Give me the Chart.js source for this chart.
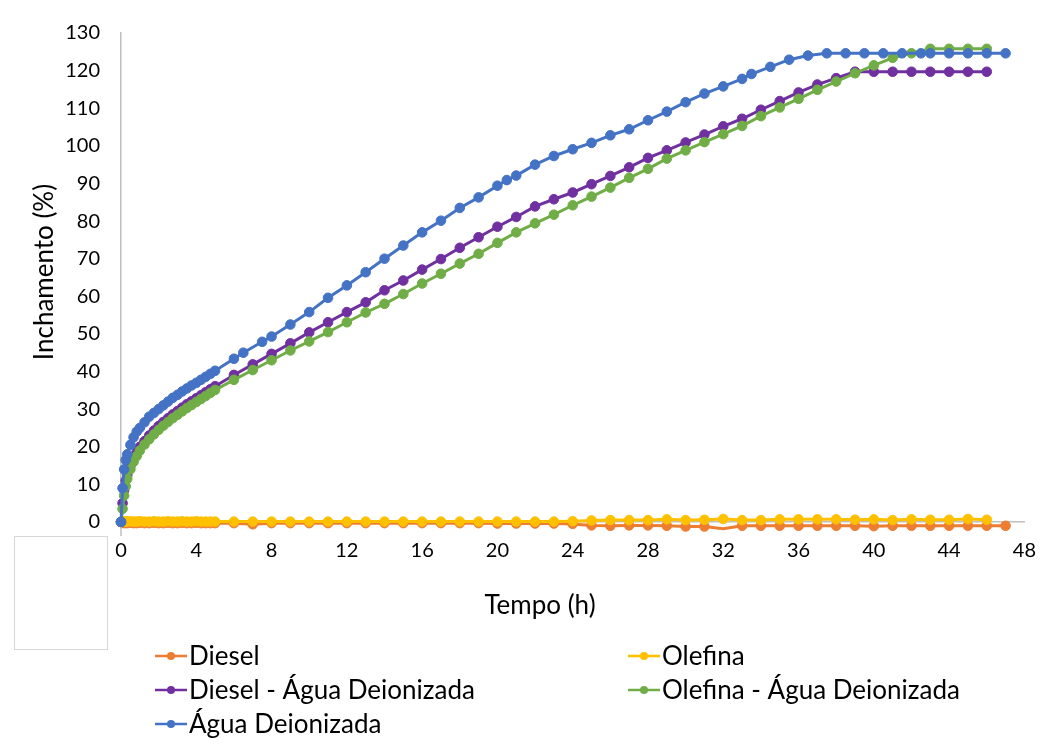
<!DOCTYPE html>
<html>
<head>
<meta charset="utf-8">
<script src="https://cdn.jsdelivr.net/npm/chart.js@4/dist/chart.umd.min.js"></script>
<style>
  html, body { margin: 0; padding: 0; background: #fff; }
  #wrap { position: relative; width: 1053px; height: 751px; }
</style>
</head>
<body>
<div id="wrap"><canvas id="c" width="1053" height="751"></canvas></div>
<script>
// ---- Data ----
const seriesNames = ['Diesel', 'Olefina', 'Diesel - Água Deionizada', 'Olefina - Água Deionizada', 'Água Deionizada'];
const xTitle = 'Tempo (h)';
const yTitle = 'Inchamento (%)';

const timeDiesel = [0,0.083,0.167,0.25,0.333,0.5,0.667,0.833,1,1.25,1.5,1.75,2,2.25,2.5,2.75,3,3.25,3.5,3.75,4,4.25,4.5,4.75,5,
  6,7,8,9,10,11,12,13,14,15,16,17,18,19,20,21,22,23,24,25,26,27,28,29,30,31,32,33,34,35,36,37,38,39,40,41,42,43,44,45,46,47];
const valDiesel = [0,-0.2,-0.3,-0.2,-0.3,-0.2,-0.3,-0.3,-0.2,-0.3,-0.3,-0.2,-0.3,-0.3,-0.2,-0.3,-0.3,-0.2,-0.3,-0.3,-0.2,-0.3,-0.3,-0.3,-0.3,
  -0.3,-0.6,-0.3,-0.3,-0.3,-0.3,-0.3,-0.3,-0.3,-0.3,-0.3,-0.3,-0.3,-0.3,-0.4,-0.4,-0.4,-0.4,-0.5,-0.9,-1.0,-0.9,-0.9,-1.0,-1.2,-1.2,-1.8,-1.0,-1.0,-1.0,-1.0,-1.0,-1.0,-1.0,-1.1,-1.0,-1.0,-1.0,-1.0,-1.0,-1.0,-1.0];

const timeOlefina = [0,0.083,0.167,0.25,0.333,0.5,0.667,0.833,1,1.25,1.5,1.75,2,2.25,2.5,2.75,3,3.25,3.5,3.75,4,4.25,4.5,4.75,5,
  6,7,8,9,10,11,12,13,14,15,16,17,18,19,20,21,22,23,24,25,26,27,28,29,30,31,32,33,34,35,36,37,38,39,40,41,42,43,44,45,46];
const valOlefina = [0,0.2,0.1,0.2,0.1,0.2,0.1,0.1,0.2,0.1,0.1,0.2,0.1,0.1,0.2,0.1,0.1,0.2,0.1,0.1,0.2,0.1,0.1,0.1,0.1,
  0.1,0.1,0.1,0.1,0.1,0.1,0.1,0.1,0.1,0.1,0.1,0.1,0.1,0.1,0.1,0.1,0.1,0.1,0.2,0.4,0.5,0.5,0.5,0.7,0.5,0.6,0.8,0.5,0.5,0.7,0.7,0.7,0.7,0.6,0.7,0.5,0.7,0.6,0.6,0.8,0.6];

const timeDieselAgua = [0,0.083,0.167,0.25,0.333,0.5,0.667,0.833,1,1.25,1.5,1.75,2,2.25,2.5,2.75,3,3.25,3.5,3.75,4,4.25,4.5,4.75,5,
  6,7,8,9,10,11,12,13,14,15,16,17,18,19,20,21,22,23,24,25,26,27,28,29,30,31,32,33,34,35,36,37,38,39,40,41,42,43,44,45,46];
const valDieselAgua = [0,5,8.5,11,12.5,15,17,18.5,20,21.5,23,24.3,25.5,26.6,27.6,28.6,29.5,30.4,31.3,32.1,32.9,33.7,34.5,35.3,36.1,
  39.1,41.9,44.7,47.5,50.4,53.1,55.8,58.4,61.6,64.2,67.1,69.9,72.9,75.7,78.5,81.1,83.9,85.8,87.6,89.8,92.0,94.3,96.8,98.8,100.9,103.0,105.2,107.2,109.6,111.9,114.2,116.3,118.0,119.7,119.7,119.7,119.7,119.7,119.7,119.7,119.7];

const timeOlefinaAgua = [0,0.083,0.167,0.25,0.333,0.5,0.667,0.833,1,1.25,1.5,1.75,2,2.25,2.5,2.75,3,3.25,3.5,3.75,4,4.25,4.5,4.75,5,
  6,7,8,9,10,11,12,13,14,15,16,17,18,19,20,21,22,23,24,25,26,27,28,29,30,31,32,33,34,35,36,37,38,39,40,41,42,43,44,45,46];
const valOlefinaAgua = [0,3.5,7,9.5,11.5,14,16,17.5,19,20.6,22,23.3,24.5,25.6,26.6,27.6,28.5,29.4,30.3,31.1,31.9,32.7,33.5,34.3,35.1,
  37.8,40.4,43.0,45.6,48.0,50.5,53.1,55.7,58.0,60.6,63.4,66.0,68.7,71.3,74.2,77.0,79.4,81.7,84.2,86.5,88.9,91.5,93.9,96.6,98.8,101.0,103.1,105.3,107.9,110.2,112.5,114.9,117.1,119.3,121.4,123.4,124.6,125.8,125.8,125.8,125.8];

const timeAgua = [0,0.083,0.167,0.25,0.333,0.5,0.667,0.833,1,1.25,1.5,1.75,2,2.25,2.5,2.75,3,3.25,3.5,3.75,4,4.25,4.5,4.75,5,
  6,6.5,7.5,8,9,10,11,12,13,14,15,16,17,18,19,20,20.5,21,22,23,24,25,26,27,28,29,30,31,32,33,33.5,34.5,35.5,36.5,37.5,38.5,39.5,40.5,41.5,42.5,43,44,45,46,47];
const valAgua = [0,9,14,16.5,18,20.5,22.5,24,25,26.5,28,29,30,31,32,33,33.8,34.7,35.5,36.3,37,37.8,38.6,39.4,40.2,
  43.4,45.0,47.9,49.3,52.5,55.8,59.6,62.9,66.4,70.0,73.5,77.0,80.1,83.5,86.3,89.4,90.9,92.1,95.0,97.3,99.1,100.8,102.8,104.4,106.8,109.1,111.6,113.9,115.8,117.8,119.1,121.0,122.9,124.0,124.6,124.6,124.6,124.6,124.6,124.6,124.6,124.6,124.6,124.6,124.6];

const xTicks = [0,4,8,12,16,20,24,28,32,36,40,44,48];
const yTicks = [0,10,20,30,40,50,60,70,80,90,100,110,120,130];

const colors = ['#ED7D31', '#FFC000', '#7030A0', '#70AD47', '#4472C4'];

function pts(t, v) { return t.map((x, i) => ({ x: x, y: v[i] })); }

const allTimes = [timeDiesel, timeOlefina, timeDieselAgua, timeOlefinaAgua, timeAgua];
const allVals = [valDiesel, valOlefina, valDieselAgua, valOlefinaAgua, valAgua];
const drawOrder = [4, 3, 2, 1, 0]; // blue on top, orange at the bottom

const FONT = 'Lato, "Open Sans", sans-serif';

const datasets = seriesNames.map((name, i) => ({
  label: name,
  data: pts(allTimes[i], allVals[i]),
  borderColor: colors[i],
  backgroundColor: colors[i],
  pointBackgroundColor: colors[i],
  pointBorderColor: colors[i],
  pointBorderWidth: 1,
  pointRadius: 4.8,
  borderWidth: 3,
  tension: 0,
  clip: false,
  order: drawOrder[i]
}));

const legendPos = [
  { x: 155, y: 656 }, { x: 628, y: 656 },
  { x: 155, y: 690 }, { x: 628, y: 690 },
  { x: 155, y: 724 }
];

const extras = {
  id: 'extras',
  afterDraw(chart) {
    const ctx = chart.ctx;
    ctx.save();
    // small empty box bottom-left
    ctx.strokeStyle = '#d6d6d6';
    ctx.lineWidth = 1;
    ctx.strokeRect(14.5, 536.5, 93, 113);
    // tick below origin
    const xs = chart.scales.x, ys = chart.scales.y;
    const x0 = xs.getPixelForValue(0), y0 = ys.getPixelForValue(0);
    ctx.strokeStyle = '#bfbfbf';
    ctx.lineWidth = 1.5;
    ctx.beginPath(); ctx.moveTo(x0, y0 + 5); ctx.lineTo(x0, y0 + 14); ctx.stroke();
    // axis titles
    ctx.fillStyle = '#000';
    ctx.font = '26px ' + FONT;
    ctx.textAlign = 'center';
    ctx.textBaseline = 'middle';
    ctx.fillText(xTitle, 540, 606);
    ctx.save();
    ctx.translate(45, 272);
    ctx.rotate(-Math.PI / 2);
    ctx.fillText(yTitle, 0, 0);
    ctx.restore();
    // legend
    ctx.font = '26px ' + FONT;
    ctx.textBaseline = 'middle';
    ctx.textAlign = 'left';
    chart.data.datasets.forEach((ds, i) => {
      const p = legendPos[i];
      ctx.strokeStyle = ds.borderColor;
      ctx.lineWidth = 2.5;
      ctx.beginPath(); ctx.moveTo(p.x, p.y); ctx.lineTo(p.x + 32, p.y); ctx.stroke();
      ctx.fillStyle = ds.borderColor;
      ctx.beginPath(); ctx.arc(p.x + 16, p.y, 4, 0, Math.PI * 2); ctx.fill();
      ctx.fillStyle = '#000';
      ctx.fillText(ds.label, p.x + 34, p.y + 1);
    });
    ctx.restore();
  }
};

new Chart(document.getElementById('c'), {
  type: 'line',
  data: { datasets: datasets },
  options: {
    responsive: false,
    animation: false,
    layout: { padding: { left: 0, top: 22, right: 14, bottom: 0 } },
    plugins: { legend: { display: false }, tooltip: { enabled: false } },
    scales: {
      x: {
        type: 'linear',
        min: 0, max: 48,
        afterBuildTicks(scale) { scale.ticks = xTicks.map(v => ({ value: v })); },
        afterFit(scale) { scale.height = 229; },
        grid: { display: false, drawTicks: false },
        border: { display: true, color: '#bfbfbf', width: 1.5 },
        ticks: { padding: 17, color: '#000', font: { family: FONT, size: 20 }, maxRotation: 0, autoSkip: false },
        title: { display: false }
      },
      y: {
        min: 0, max: 130,
        afterBuildTicks(scale) { scale.ticks = yTicks.map(v => ({ value: v })); },
        afterFit(scale) { scale.width = 121; },
        grid: { display: false, drawTicks: false },
        border: { display: true, color: '#bfbfbf', width: 1.5 },
        ticks: { padding: 21, color: '#000', font: { family: FONT, size: 20 }, autoSkip: false },
        title: { display: false }
      }
    }
  },
  plugins: [extras]
});
</script>
</body>
</html>
